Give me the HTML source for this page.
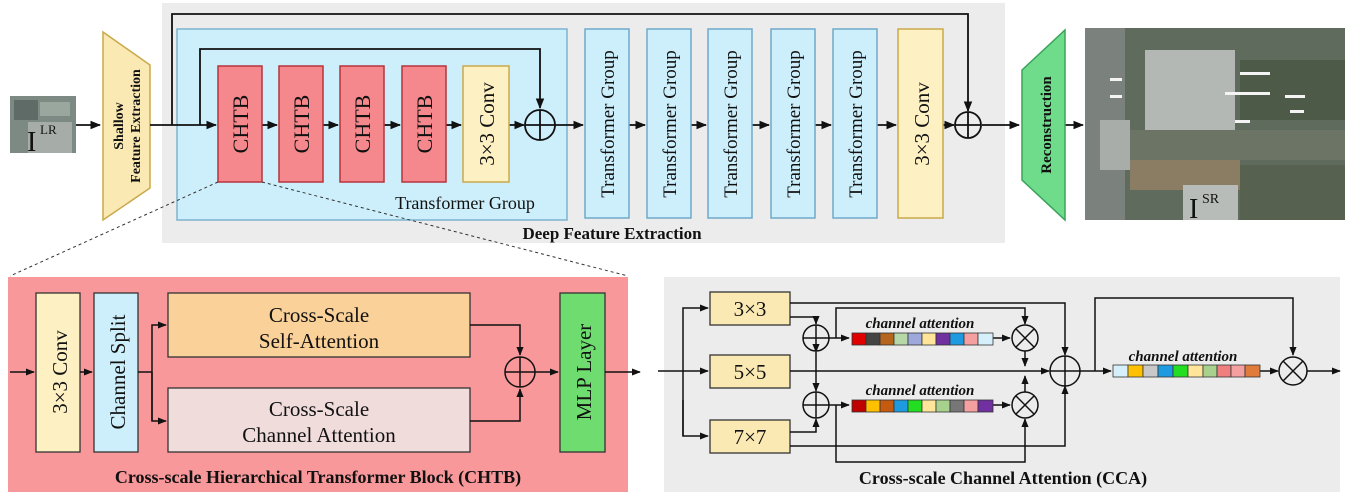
<!DOCTYPE html>
<html><head><meta charset="utf-8"><style>
html,body{margin:0;padding:0;background:#fff;width:1350px;height:500px;overflow:hidden}
svg{display:block}
text{font-family:"Liberation Serif",serif;fill:#111}
.b{font-weight:bold}
</style></head><body>
<svg width="1350" height="500" viewBox="0 0 1350 500" xmlns="http://www.w3.org/2000/svg">
<defs>
<marker id="a" viewBox="0 0 10 10" refX="9" refY="5" markerWidth="6" markerHeight="6" orient="auto"><path d="M0,1 L10,5 L0,9 z" fill="#111"/></marker>
</defs>
<rect x="162" y="3" width="843" height="240" fill="#ececec"/>
<rect x="177" y="29" width="390" height="191" fill="#cdeefb" stroke="#7fb4cf" stroke-width="1.5"/>
<rect x="10" y="96" width="66" height="57" fill="#7d8a84"/>
<rect x="14" y="100" width="24" height="20" fill="#5f6b66"/>
<rect x="40" y="102" width="30" height="14" fill="#9aa79f"/>
<rect x="28" y="122" width="44" height="31" fill="#a6aca8"/>
<text x="27" y="151" font-size="28">I</text><text x="40" y="134" font-size="13">LR</text>
<polygon points="103,32 150,65 150,188 103,220" fill="#fbe9b4" stroke="#c9a94a" stroke-width="1.5"/>
<text transform="translate(123,126) rotate(-90)" text-anchor="middle" font-size="14" class="b">Shallow</text>
<text transform="translate(140,126) rotate(-90)" text-anchor="middle" font-size="14" class="b">Feature Extraction</text>
<g stroke="#111" stroke-width="1.8" fill="none">
<line x1="76" y1="125" x2="100" y2="125" marker-end="url(#a)"/>
<line x1="150" y1="125" x2="216" y2="125" marker-end="url(#a)"/>
<polyline points="172,125 172,14 968,14 968,111" marker-end="url(#a)"/>
<polyline points="200,125 200,49 540,49 540,108" marker-end="url(#a)"/>
<line x1="262" y1="125" x2="277" y2="125" marker-end="url(#a)"/>
<line x1="323" y1="125" x2="338" y2="125" marker-end="url(#a)"/>
<line x1="384" y1="125" x2="400" y2="125" marker-end="url(#a)"/>
<line x1="446" y1="125" x2="461" y2="125" marker-end="url(#a)"/>
<line x1="509" y1="125" x2="524" y2="125" marker-end="url(#a)"/>
<line x1="555" y1="125" x2="583" y2="125" marker-end="url(#a)"/>
<line x1="629" y1="125" x2="645" y2="125" marker-end="url(#a)"/>
<line x1="691" y1="125" x2="706" y2="125" marker-end="url(#a)"/>
<line x1="752" y1="125" x2="769" y2="125" marker-end="url(#a)"/>
<line x1="815" y1="125" x2="831" y2="125" marker-end="url(#a)"/>
<line x1="877" y1="125" x2="896" y2="125" marker-end="url(#a)"/>
<line x1="943" y1="125" x2="954" y2="125" marker-end="url(#a)"/>
<line x1="982" y1="125" x2="1019" y2="125" marker-end="url(#a)"/>
<line x1="1065" y1="125" x2="1083" y2="125" marker-end="url(#a)"/>
</g>
<g fill="#f4888c" stroke="#b8323a" stroke-width="1.5">
<rect x="218" y="66" width="44" height="116"/><rect x="279" y="66" width="44" height="116"/>
<rect x="340" y="66" width="44" height="116"/><rect x="402" y="66" width="44" height="116"/>
</g>
<g font-size="22" text-anchor="middle">
<text transform="translate(248,124) rotate(-90)">CHTB</text>
<text transform="translate(309,124) rotate(-90)">CHTB</text>
<text transform="translate(370,124) rotate(-90)">CHTB</text>
<text transform="translate(432,124) rotate(-90)">CHTB</text>
</g>
<rect x="463" y="66" width="46" height="116" fill="#fdf1c4" stroke="#c9a94a" stroke-width="1.5"/>
<text transform="translate(494,124) rotate(-90)" text-anchor="middle" font-size="21">3×3 Conv</text>
<g fill="none" stroke="#111" stroke-width="1.8">
<circle cx="540" cy="125" r="15"/><line x1="525" y1="125" x2="555" y2="125"/><line x1="540" y1="110" x2="540" y2="140"/>
<circle cx="968" cy="125" r="13"/><line x1="955" y1="125" x2="981" y2="125"/><line x1="968" y1="112" x2="968" y2="138"/>
</g>
<text x="465" y="209" font-size="18" text-anchor="middle">Transformer Group</text>
<g fill="#cdeefb" stroke="#6fa9c9" stroke-width="1.5">
<rect x="585" y="29" width="44" height="189"/><rect x="647" y="29" width="44" height="189"/>
<rect x="708" y="29" width="44" height="189"/><rect x="771" y="29" width="44" height="189"/>
<rect x="833" y="29" width="44" height="189"/>
</g>
<g font-size="19" text-anchor="middle">
<text transform="translate(614,124) rotate(-90)">Transformer Group</text>
<text transform="translate(676,124) rotate(-90)">Transformer Group</text>
<text transform="translate(737,124) rotate(-90)">Transformer Group</text>
<text transform="translate(800,124) rotate(-90)">Transformer Group</text>
<text transform="translate(862,124) rotate(-90)">Transformer Group</text>
</g>
<rect x="898" y="29" width="45" height="189" fill="#fdf1c4" stroke="#c9a94a" stroke-width="1.5"/>
<text transform="translate(929,124) rotate(-90)" text-anchor="middle" font-size="21">3×3 Conv</text>
<text x="612" y="239" font-size="17" class="b" text-anchor="middle">Deep Feature Extraction</text>
<polygon points="1022,70 1065,30 1065,220 1022,180" fill="#6fdc8c" stroke="#3aa35a" stroke-width="1.5"/>
<text transform="translate(1051,125) rotate(-90)" text-anchor="middle" font-size="15" class="b">Reconstruction</text>
<rect x="1085" y="28" width="260" height="192" fill="#5f6b5c"/>
<rect x="1085" y="28" width="40" height="192" fill="#7b817c"/>
<rect x="1145" y="50" width="90" height="80" fill="#b4b8b4"/>
<rect x="1125" y="130" width="220" height="30" fill="#6c7466"/>
<rect x="1100" y="120" width="30" height="50" fill="#a9adaa"/>
<rect x="1130" y="160" width="110" height="30" fill="#8a7d64"/>
<rect x="1240" y="60" width="105" height="60" fill="#4d5a47"/>
<rect x="1240" y="165" width="105" height="55" fill="#56624f"/>
<g fill="#f4f4f4"><rect x="1240" y="72" width="30" height="3"/><rect x="1225" y="92" width="45" height="3"/><rect x="1285" y="95" width="20" height="3"/><rect x="1235" y="120" width="15" height="3"/><rect x="1110" y="78" width="12" height="3"/><rect x="1110" y="95" width="12" height="3"/><rect x="1290" y="110" width="14" height="3"/></g>
<rect x="1183" y="185" width="55" height="35" fill="#b8bcb8"/>
<text x="1189" y="218" font-size="28">I</text><text x="1202" y="203" font-size="14">SR</text>
<g stroke="#333" stroke-width="1" stroke-dasharray="3,3" fill="none">
<line x1="218" y1="182" x2="10" y2="276"/><line x1="262" y1="182" x2="628" y2="276"/>
</g>
<rect x="8" y="277" width="620" height="215" fill="#f9989b"/>
<rect x="36" y="293" width="44" height="159" fill="#fdf1c4" stroke="#333" stroke-width="1.3"/>
<text transform="translate(67,372) rotate(-90)" text-anchor="middle" font-size="21">3×3 Conv</text>
<rect x="94" y="293" width="44" height="159" fill="#cdeefb" stroke="#333" stroke-width="1.3"/>
<text transform="translate(125,372) rotate(-90)" text-anchor="middle" font-size="21">Channel Split</text>
<rect x="168" y="293" width="302" height="64" fill="#f9d199" stroke="#333" stroke-width="1.3"/>
<text x="319" y="322" font-size="21" text-anchor="middle">Cross-Scale</text>
<text x="319" y="348" font-size="21" text-anchor="middle">Self-Attention</text>
<rect x="168" y="388" width="302" height="64" fill="#f1dcdc" stroke="#333" stroke-width="1.3"/>
<text x="319" y="416" font-size="21" text-anchor="middle">Cross-Scale</text>
<text x="319" y="442" font-size="21" text-anchor="middle">Channel Attention</text>
<rect x="560" y="293" width="45" height="159" fill="#6fdc6f" stroke="#333" stroke-width="1.3"/>
<text transform="translate(591,372) rotate(-90)" text-anchor="middle" font-size="21">MLP Layer</text>
<g fill="none" stroke="#111" stroke-width="1.5">
<line x1="10" y1="372" x2="34" y2="372" marker-end="url(#a)"/>
<line x1="80" y1="372" x2="92" y2="372" marker-end="url(#a)"/>
<polyline points="138,372 152,372"/>
<polyline points="152,421 152,325 166,325" marker-end="url(#a)"/>
<polyline points="152,372 152,421 166,421" marker-end="url(#a)"/>
<polyline points="470,325 520,325 520,355" marker-end="url(#a)"/>
<polyline points="470,421 520,421 520,389" marker-end="url(#a)"/>
<circle cx="520" cy="372" r="15"/><line x1="505" y1="372" x2="535" y2="372"/><line x1="520" y1="357" x2="520" y2="387"/>
<line x1="535" y1="372" x2="558" y2="372" marker-end="url(#a)"/>
<line x1="605" y1="372" x2="640" y2="372" marker-end="url(#a)"/>
</g>
<text x="318" y="483" font-size="18" class="b" text-anchor="middle">Cross-scale Hierarchical Transformer Block (CHTB)</text>
<rect x="664" y="277" width="676" height="215" fill="#ececec"/>
<g fill="#fbe9b4" stroke="#333" stroke-width="1.3">
<rect x="710" y="292" width="80" height="33"/><rect x="710" y="355" width="80" height="33"/><rect x="710" y="420" width="80" height="33"/>
</g>
<g font-size="21" text-anchor="middle"><text x="750" y="316">3×3</text><text x="750" y="379">5×5</text><text x="750" y="444">7×7</text></g>
<g fill="none" stroke="#111" stroke-width="1.5">
<line x1="658" y1="371" x2="708" y2="371" marker-end="url(#a)"/>
<polyline points="683,436 683,308 708,308" marker-end="url(#a)"/>
<polyline points="683,400 683,436 708,436" marker-end="url(#a)"/>
<polyline points="790,303 1065,303 1065,355" marker-end="url(#a)"/>
<polyline points="790,446 1065,446 1065,386" marker-end="url(#a)"/>
<polyline points="790,317 816,317 816,324" marker-end="url(#a)"/>
<polyline points="790,432 816,432 816,419" marker-end="url(#a)"/>
<line x1="816" y1="352" x2="816" y2="391" marker-start="url(#a)" marker-end="url(#a)"/>
<circle cx="816" cy="338" r="13"/><line x1="803" y1="338" x2="829" y2="338"/><line x1="816" y1="325" x2="816" y2="351"/>
<circle cx="816" cy="405" r="13"/><line x1="803" y1="405" x2="829" y2="405"/><line x1="816" y1="392" x2="816" y2="418"/>
<line x1="829" y1="338" x2="849" y2="338" marker-end="url(#a)"/>
<line x1="829" y1="405" x2="849" y2="405" marker-end="url(#a)"/>
<polyline points="836,338 836,308 1025,308 1025,324" marker-end="url(#a)"/>
<polyline points="836,405 836,462 1025,462 1025,419" marker-end="url(#a)"/>
<line x1="993" y1="338" x2="1010" y2="338" marker-end="url(#a)"/>
<line x1="993" y1="405" x2="1010" y2="405" marker-end="url(#a)"/>
<circle cx="1025" cy="338" r="13"/><line x1="1016" y1="329" x2="1034" y2="347"/><line x1="1034" y1="329" x2="1016" y2="347"/>
<circle cx="1025" cy="405" r="13"/><line x1="1016" y1="396" x2="1034" y2="414"/><line x1="1034" y1="396" x2="1016" y2="414"/>
<polyline points="1025,351 1025,366" marker-end="url(#a)"/>
<polyline points="1025,392 1025,376" marker-end="url(#a)"/>
<line x1="790" y1="371" x2="1049" y2="371" marker-end="url(#a)"/>
<circle cx="1065" cy="371" r="15"/><line x1="1050" y1="371" x2="1080" y2="371"/><line x1="1065" y1="356" x2="1065" y2="386"/>
<line x1="1080" y1="371" x2="1111" y2="371" marker-end="url(#a)"/>
<polyline points="1095,371 1095,298 1293,298 1293,355" marker-end="url(#a)"/>
<line x1="1260" y1="371" x2="1278" y2="371" marker-end="url(#a)"/>
<circle cx="1293" cy="371" r="14"/><line x1="1283" y1="361" x2="1303" y2="381"/><line x1="1303" y1="361" x2="1283" y2="381"/>
<line x1="1307" y1="371" x2="1340" y2="371" marker-end="url(#a)"/>
</g>
<g font-size="15" class="b" font-style="italic" text-anchor="middle">
<text x="920" y="328">channel attention</text><text x="920" y="395">channel attention</text><text x="1183" y="361">channel attention</text>
</g>
<g stroke="#333" stroke-width="0.8">
<rect x="852" y="333" width="14" height="12" fill="#e00000"/><rect x="866" y="333" width="14" height="12" fill="#444"/><rect x="880" y="333" width="14" height="12" fill="#b5651d"/><rect x="894" y="333" width="14" height="12" fill="#b6d7a8"/><rect x="908" y="333" width="14" height="12" fill="#9fa8da"/><rect x="922" y="333" width="14" height="12" fill="#ffe599"/><rect x="936" y="333" width="14" height="12" fill="#7030a0"/><rect x="950" y="333" width="14" height="12" fill="#1e9be0"/><rect x="964" y="333" width="14" height="12" fill="#f4a0a0"/><rect x="978" y="333" width="15" height="12" fill="#d6f0fb"/>
<rect x="852" y="400" width="14" height="12" fill="#c00000"/><rect x="866" y="400" width="14" height="12" fill="#ffc000"/><rect x="880" y="400" width="14" height="12" fill="#c55a11"/><rect x="894" y="400" width="14" height="12" fill="#1e9be0"/><rect x="908" y="400" width="14" height="12" fill="#22dd22"/><rect x="922" y="400" width="14" height="12" fill="#ffe599"/><rect x="936" y="400" width="14" height="12" fill="#a9d18e"/><rect x="950" y="400" width="14" height="12" fill="#777"/><rect x="964" y="400" width="14" height="12" fill="#f4a0a0"/><rect x="978" y="400" width="15" height="12" fill="#7030a0"/>
<rect x="1113" y="365" width="15" height="12" fill="#d6f0fb"/><rect x="1128" y="365" width="15" height="12" fill="#ffc000"/><rect x="1143" y="365" width="15" height="12" fill="#c8c8c8"/><rect x="1158" y="365" width="15" height="12" fill="#1e9be0"/><rect x="1173" y="365" width="15" height="12" fill="#22dd22"/><rect x="1188" y="365" width="15" height="12" fill="#ffe599"/><rect x="1203" y="365" width="14" height="12" fill="#a9d18e"/><rect x="1217" y="365" width="14" height="12" fill="#f08080"/><rect x="1231" y="365" width="14" height="12" fill="#f4a0a0"/><rect x="1245" y="365" width="15" height="12" fill="#e07b39"/>
</g>
<text x="1003" y="484" font-size="18" class="b" text-anchor="middle">Cross-scale Channel Attention (CCA)</text>
</svg>
</body></html>
